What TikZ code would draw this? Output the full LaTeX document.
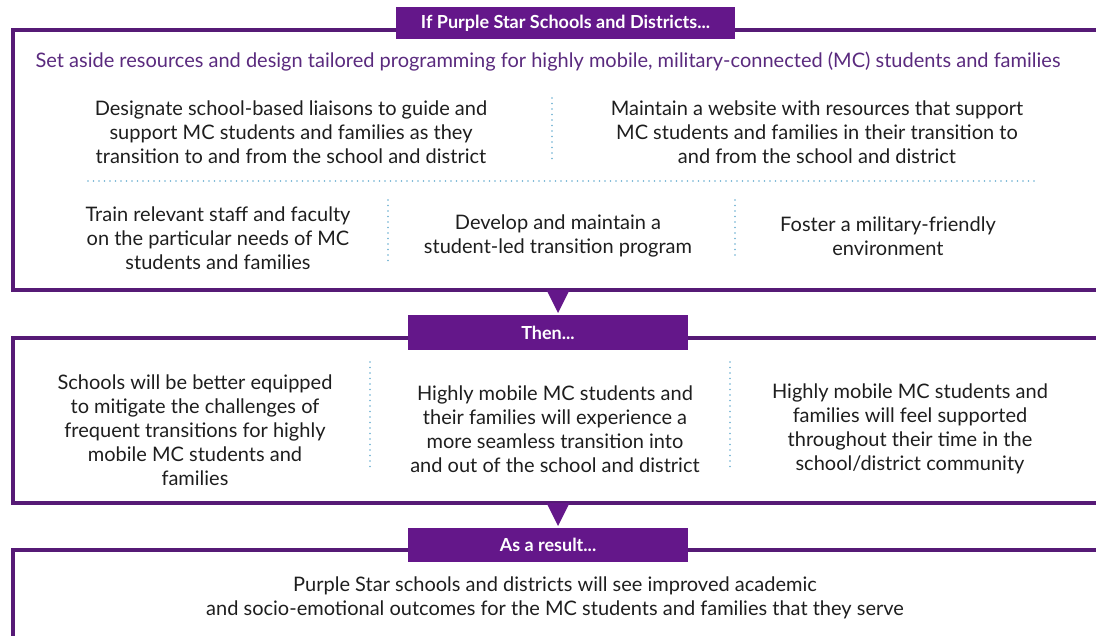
\documentclass[tikz,border=0pt]{standalone}
\usepackage{fontspec}
\setmainfont{Lato}
\definecolor{framepurple}{HTML}{561A76}
\definecolor{tagpurple}{HTML}{64178A}
\definecolor{leadpurple}{HTML}{5A2A7E}
\definecolor{bodyink}{HTML}{1E1E1E}
\definecolor{dotblue}{HTML}{6AAED0}
\tikzset{
  frame/.style={draw=framepurple, line width=4pt},
  tag/.style={fill=tagpurple, text=white, font=\fontsize{18}{21}\selectfont\bfseries,
    inner sep=0pt, minimum height=33pt},
  body/.style={text=bodyink, align=center, inner sep=0pt,
    font=\fontsize{20}{24}\selectfont},
  lead/.style={text=leadpurple, align=center, inner sep=0pt,
    font=\fontsize{20}{24}\selectfont},
  sep/.style={draw=dotblue, line width=1.8pt, line cap=round, dash pattern=on 0pt off 5.5pt},
  pointer/.style={fill=tagpurple}
}
\begin{document}
\begin{tikzpicture}[x=1pt,y=-1pt]
\useasboundingbox (0,0) rectangle (1096,636);
\clip (0,0) rectangle (1096,636);

% three open frames, running off the right edge
\draw[frame] (1110,30) -- (13,30) -- (13,290) -- (1110,290);
\draw[frame] (1110,338) -- (13,338) -- (13,503) -- (1110,503);
\draw[frame] (1110,550) -- (13,550) -- (13,650);

% frame tags
\node[tag, minimum width=339pt, minimum height=32pt] (ifTag) at (565.5,23) {If Purple Star Schools and Districts...};
\node[tag, minimum width=280pt, minimum height=35pt] (thenTag) at (548,332.5) {Then...};
\node[tag, minimum width=280pt, minimum height=34pt] (resultTag) at (548,545) {As a result...};

% downward pointers between frames
\fill[pointer] (546.5,290) -- (569.5,290) -- (558,313) -- cycle;
\fill[pointer] (546.5,503) -- (569.5,503) -- (558,526) -- cycle;

% first frame
\node[lead] (aim) at (548,62) {Set aside resources and design tailored programming for highly mobile, military-connected (MC) students and families};
\node[body] (liaison) at (291,132) {Designate school-based liaisons to guide and\\support MC students and families as they\\transition to and from the school and district};
\node[body] (website) at (817,132) {Maintain a website with resources that support\\MC students and families in their transition to\\and from the school and district};
\draw[sep] (552,98) -- (552,160);
\draw[sep] (88,181) -- (1035,181);
\node[body] (train) at (218,238) {Train relevant staff and faculty\\on the particular needs of MC\\students and families};
\node[body] (program) at (558,236) {Develop and maintain a\\student-led transition program};
\node[body] (foster) at (888,236) {Foster a military-friendly\\environment};
\draw[sep] (388,200) -- (388,262);
\draw[sep] (735,200) -- (735,258);

% second frame
\node[body] (equipped) at (195,430) {Schools will be better equipped\\to mitigate the challenges of\\frequent transitions for highly\\mobile MC students and\\families};
\node[body] (seamless) at (555,429) {Highly mobile MC students and\\their families will experience a\\more seamless transition into\\and out of the school and district};
\node[body] (supported) at (910,429) {Highly mobile MC students and\\families will feel supported\\throughout their time in the\\school/district community};
\draw[sep] (370,362) -- (370,470);
\draw[sep] (730,362) -- (730,470);

% third frame
\node[body] (outcome) at (555,598) {Purple Star schools and districts will see improved academic\\and socio-emotional outcomes for the MC students and families that they serve};
\end{tikzpicture}
\end{document}
